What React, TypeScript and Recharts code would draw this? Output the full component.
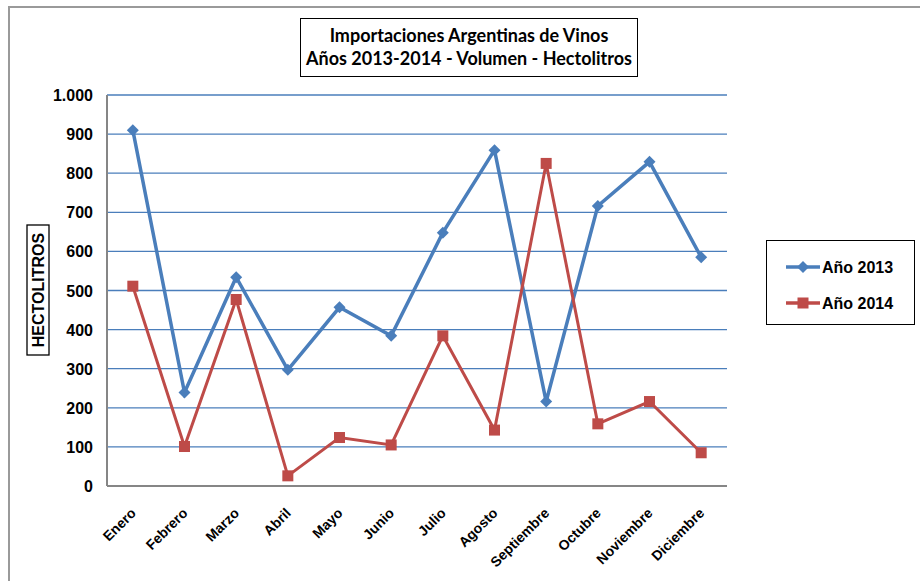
import React from "react";
import { LineChart, Line, XAxis, YAxis, CartesianGrid } from "recharts";

const months = ["Enero", "Febrero", "Marzo", "Abril", "Mayo", "Junio", "Julio", "Agosto", "Septiembre", "Octubre", "Noviembre", "Diciembre"];
const values2013 = [910, 239, 534, 297, 457, 384, 648, 859, 216, 716, 829, 585];
const values2014 = [511, 101, 477, 26, 124, 105, 384, 143, 825, 159, 216, 85];
const yTicks = [0, 100, 200, 300, 400, 500, 600, 700, 800, 900, 1000];
const seriesNames = ["Año 2013", "Año 2014"];

const data = months.map((m, i) => ({ month: m, a2013: values2013[i], a2014: values2014[i] }));

const BLUE = "#4A7EBB";
const RED = "#BE4B48";
const AXIS = "#868686";
const FONT = "'Liberation Sans', Arial, sans-serif";

const fmt = (v: number) => (v >= 1000 ? v.toLocaleString("de-DE") : String(v));

const Diamond = (props: any) => {
  const { cx, cy } = props;
  if (cx == null || cy == null) return null;
  const r = 6;
  return <polygon points={`${cx},${cy - r} ${cx + r},${cy} ${cx},${cy + r} ${cx - r},${cy}`} fill={BLUE} />;
};

const Square = (props: any) => {
  const { cx, cy } = props;
  if (cx == null || cy == null) return null;
  const s = 11;
  return <rect x={cx - s / 2} y={cy - s / 2} width={s} height={s} fill={RED} />;
};

const XTick = (props: any) => {
  const { x, y, payload } = props;
  return (
    <g transform={`translate(${x},${y})`}>
      <text
        x={4}
        y={20}
        transform="rotate(-45 4 20)"
        textAnchor="end"
        fontFamily={FONT}
        fontWeight="bold"
        fontSize={14}
        fill="#000"
      >
        {payload.value}
      </text>
    </g>
  );
};

const YTick = (props: any) => {
  const { x, y, payload } = props;
  return (
    <text x={x} y={y} dy={6} textAnchor="end" fontFamily={FONT} fontWeight="bold" fontSize={16} fill="#000">
      {fmt(payload.value)}
    </text>
  );
};

const YLabel = () => (
  <g>
    <rect x={27} y={225} width={22} height={130} fill="#fff" stroke="#000" strokeWidth={1.3} />
    <text
      x={0}
      y={0}
      transform="translate(44,290) rotate(-90)"
      textAnchor="middle"
      fontFamily={FONT}
      fontWeight="bold"
      fontSize={16}
      fill="#000"
    >
      HECTOLITROS
    </text>
  </g>
);

const LegendBox = () => (
  <svg width={149} height={85} style={{ display: "block" }}>
    <rect x={0.5} y={0.5} width={148} height={84} fill="#fff" stroke="#000" strokeWidth={1} />
    <line x1={20} y1={27} x2={54} y2={27} stroke={BLUE} strokeWidth={3.5} />
    <polygon points="37,21 43,27 37,33 31,27" fill={BLUE} />
    <text x={56} y={33} fontFamily={FONT} fontWeight="bold" fontSize={16} fill="#000">{seriesNames[0]}</text>
    <line x1={20} y1={63} x2={54} y2={63} stroke={RED} strokeWidth={3.5} />
    <rect x={31.5} y={57.5} width={11} height={11} fill={RED} />
    <text x={56} y={69} fontFamily={FONT} fontWeight="bold" fontSize={16} fill="#000">{seriesNames[1]}</text>
  </svg>
);

export default function App() {
  return (
    <div style={{ position: "absolute", left: 0, top: 0, width: 920, height: 581, background: "#fff", overflow: "hidden" }}>
      <div
        style={{
          position: "absolute",
          left: 8,
          top: 6,
          width: 940,
          height: 600,
          borderTop: "2px solid #9a9a9a",
          borderLeft: "2px solid #9a9a9a",
          boxSizing: "border-box",
        }}
      />
      <div
        style={{
          position: "absolute",
          left: 300,
          top: 18,
          width: 338,
          height: 59,
          border: "1.5px solid #000",
          boxSizing: "border-box",
          fontFamily: "Lato, 'Noto Sans', sans-serif",
          fontWeight: 700,
          fontSize: 18,
          lineHeight: "23px",
          textAlign: "center",
          paddingTop: 5,
          color: "#000",
          background: "#fff",
        }}
      >
        <div>Importaciones Argentinas de Vinos</div>
        <div>Años 2013-2014 - Volumen - Hectolitros</div>
      </div>
      <div style={{ position: "absolute", left: 0, top: 0 }}>
        <LineChart width={920} height={581} data={data} margin={{ top: 95, right: 193, bottom: 25, left: 47 }}>
          <CartesianGrid horizontal vertical={false} stroke={BLUE} strokeWidth={1.3} />
          <XAxis
            dataKey="month"
            height={70}
            interval={0}
            padding={{ left: 25.83, right: 25.83 }}
            tickLine={false}
            axisLine={{ stroke: AXIS, strokeWidth: 2 }}
            tick={<XTick />}
          />
          <YAxis
            width={60}
            domain={[0, 1000]}
            ticks={yTicks}
            interval={0}
            tickLine={false}
            tickSize={0}
            tickMargin={14}
            axisLine={{ stroke: AXIS, strokeWidth: 2 }}
            tick={<YTick />}
            label={<YLabel />}
          />
          <Line
            type="linear"
            dataKey="a2013"
            name={seriesNames[0]}
            stroke={BLUE}
            strokeWidth={3.5}
            dot={<Diamond />}
            activeDot={false}
            isAnimationActive={false}
          />
          <Line
            type="linear"
            dataKey="a2014"
            name={seriesNames[1]}
            stroke={RED}
            strokeWidth={3}
            dot={<Square />}
            activeDot={false}
            isAnimationActive={false}
          />
        </LineChart>
      </div>
      <div style={{ position: "absolute", left: 766, top: 240 }}>
        <LegendBox />
      </div>
    </div>
  );
}
